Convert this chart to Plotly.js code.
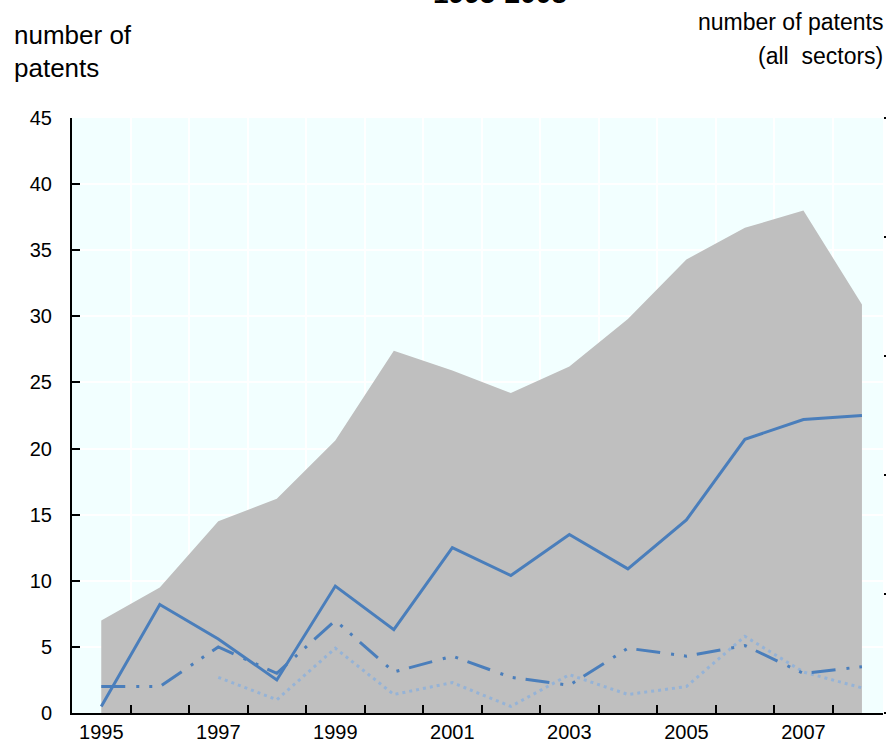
<!DOCTYPE html>
<html>
<head>
<meta charset="utf-8">
<script src="https://cdn.plot.ly/plotly-3.0.1.min.js"></script>
<style>
  html, body { margin: 0; padding: 0; background: #ffffff; }
  #chart { width: 886px; height: 745px; }
</style>
</head>
<body>
<div id="chart"></div>
<script>
// ---- data ----
const years = [1995, 1996, 1997, 1998, 1999, 2000, 2001, 2002, 2003, 2004, 2005, 2006, 2007, 2008];
const allSectors = [7.0, 9.5, 14.5, 16.2, 20.6, 27.4, 25.9, 24.2, 26.2, 29.8, 34.3, 36.7, 38.0, 30.9];
const seriesSolid = [0.5, 8.2, 5.6, 2.5, 9.6, 6.3, 12.5, 10.4, 13.5, 10.9, 14.6, 20.7, 22.2, 22.5];
const seriesDashDot = [2.0, 2.0, 5.0, 3.0, 7.0, 3.1, 4.3, 2.7, 2.1, 4.9, 4.3, 5.1, 3.0, 3.5];
const seriesDotted = [null, null, 2.7, 1.0, 4.9, 1.4, 2.3, 0.5, 2.9, 1.4, 2.0, 5.8, 3.1, 1.9];
const xTickLabels = ['1995', '1997', '1999', '2001', '2003', '2005', '2007'];
const yTickValues = [0, 5, 10, 15, 20, 25, 30, 35, 40, 45];

const REG = '"Liberation Sans", Arial, sans-serif';

const boundaries = years.slice(0, -1).map(y => y + 0.5);

const traces = [
  {
    x: years, y: allSectors, type: 'scatter', mode: 'lines',
    fill: 'tozeroy', fillcolor: '#BFBFBF',
    line: { width: 0, color: '#BFBFBF' },
    hoverinfo: 'skip', showlegend: false
  },
  {
    x: years, y: seriesDotted, type: 'scatter', mode: 'lines',
    line: { color: '#95B3D7', width: 3, dash: '3px,4px' },
    showlegend: false
  },
  {
    x: years, y: seriesDashDot, type: 'scatter', mode: 'lines',
    line: { color: '#4A7EBB', width: 3, dash: '24px,11px,3px,10px,3px,10px' },
    showlegend: false
  },
  {
    x: years, y: seriesSolid, type: 'scatter', mode: 'lines',
    line: { color: '#4A7EBB', width: 3 },
    showlegend: false
  },
  {
    x: [], y: [], yaxis: 'y2', type: 'scatter', mode: 'lines', showlegend: false, hoverinfo: 'skip'
  }
];

const layout = {
  width: 886, height: 745,
  margin: { l: 72, r: 3, t: 118, b: 32 },
  paper_bgcolor: '#FFFFFF',
  plot_bgcolor: '#F2FFFF',
  showlegend: false,
  xaxis: {
    type: 'linear',
    range: [1994.5, 2008.36],
    tickmode: 'array',
    tickvals: xTickLabels.map(Number),
    ticktext: xTickLabels,
    ticks: '',
    showgrid: false,
    zeroline: false,
    showline: true, linecolor: '#000', linewidth: 2,
    ticklabelstandoff: 0,
    tickfont: { family: REG, size: 20, color: '#000' },
    minor: {
      tickmode: 'array', tickvals: boundaries,
      ticks: 'inside', ticklen: 8, tickwidth: 2, tickcolor: '#000',
      showgrid: true, gridcolor: '#FFFFFF', gridwidth: 2
    }
  },
  yaxis: {
    range: [0, 45],
    tickmode: 'array', tickvals: yTickValues,
    ticks: 'inside', ticklen: 8, tickwidth: 2, tickcolor: '#000',
    showline: true, linecolor: '#000', linewidth: 2,
    showgrid: true, gridcolor: '#FFFFFF', gridwidth: 2,
    zeroline: false,
    ticklabelstandoff: 14,
    tickfont: { family: REG, size: 20, color: '#000' }
  },
  yaxis2: {
    overlaying: 'y', side: 'right',
    range: [0, 45],
    tickmode: 'array', tickvals: [0, 9, 18, 27, 36, 45],
    ticks: 'outside', ticklen: 6, tickwidth: 2, tickcolor: '#000',
    showticklabels: false, showgrid: false, showline: false, zeroline: false
  },
  annotations: [
    { text: '<b>1995-2008</b>', xref: 'paper', yref: 'paper', x: (500 - 72) / 811, y: 1 + (118 - 11) / 595,
      xanchor: 'center', yanchor: 'bottom', showarrow: false,
      font: { family: REG, size: 28, color: '#000' } },
    { text: 'number of', xref: 'paper', yref: 'paper', x: -0.074, y: 1 + (118 - 52) / 595,
      xanchor: 'left', yanchor: 'bottom', showarrow: false,
      font: { family: REG, size: 26, color: '#000' } },
    { text: 'patents', xref: 'paper', yref: 'paper', x: -0.074, y: 1 + (118 - 85) / 595,
      xanchor: 'left', yanchor: 'bottom', showarrow: false,
      font: { family: REG, size: 26, color: '#000' } },
    { text: 'number of patents', xref: 'paper', yref: 'paper', x: 1.003, y: 1 + (118 - 37) / 595,
      xanchor: 'right', yanchor: 'bottom', showarrow: false,
      font: { family: REG, size: 23, color: '#000' } },
    { text: '(all  sectors)', xref: 'paper', yref: 'paper', x: 1.003, y: 1 + (118 - 71) / 595,
      xanchor: 'right', yanchor: 'bottom', showarrow: false,
      font: { family: REG, size: 23, color: '#000' } }
  ]
};

Plotly.newPlot('chart', traces, layout, { displayModeBar: false, staticPlot: true });
</script>
</body>
</html>
